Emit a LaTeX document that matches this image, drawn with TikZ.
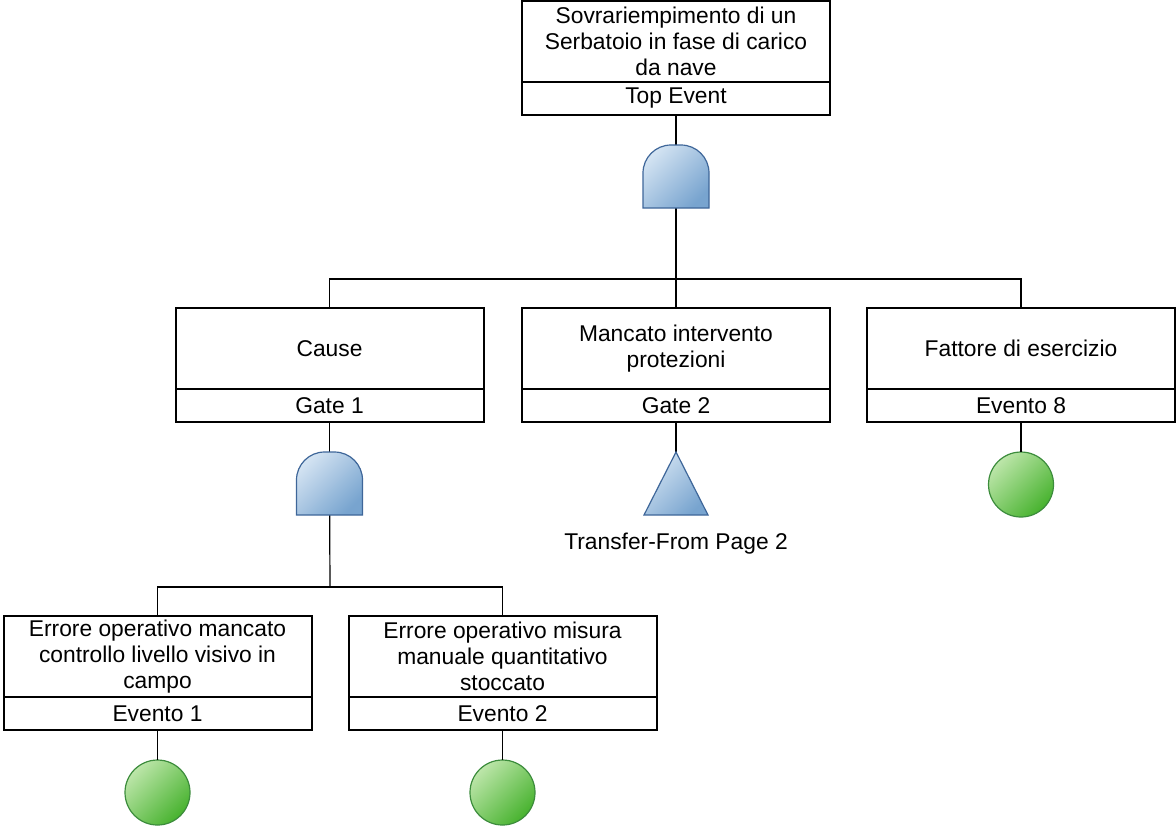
\documentclass[tikz,border=0pt]{standalone}
\usepackage{fontspec}
\setmainfont{Liberation Sans}
\usetikzlibrary{positioning}
\definecolor{gatelight}{HTML}{D3E3F2}
\definecolor{gatedark}{HTML}{78A4CF}
\definecolor{gateline}{HTML}{3E6699}
\definecolor{eventlight}{HTML}{BDE6AA}
\definecolor{eventdark}{HTML}{47B22E}
\definecolor{eventline}{HTML}{3C8C3C}
\pgfmathsetmacro{\gatecorner}{14}
% gate symbols drawn over an empty node
\newcommand{\andgate}[1]{%
  \draw[gatesym] (#1.south west) -- ([yshift=-\gatecorner pt]#1.north west)
    arc[start angle=180, end angle=90, radius=\gatecorner pt]
    -- ([xshift=-\gatecorner pt]#1.north east)
    arc[start angle=90, end angle=0, radius=\gatecorner pt]
    -- (#1.south east) -- cycle;}
\newcommand{\transfergate}[1]{%
  \draw[gatesym] (#1.south west) -- (#1.north) -- (#1.south east) -- cycle;}

\begin{document}
\begin{tikzpicture}[x=0.5pt, y=0.5pt,
    font=\fontsize{11.4}{13}\selectfont,
    body/.style={draw, line width=1pt, minimum width=154pt, minimum height=40.5pt,
      align=center, inner sep=0pt, outer sep=0pt},
    ident/.style={draw, line width=1pt, minimum width=154pt, minimum height=16.5pt,
      inner sep=0pt, outer sep=0pt},
    gatebox/.style={minimum width=33pt, minimum height=31.5pt, inner sep=0pt, outer sep=0pt},
    gatesym/.style={draw=gateline, line width=0.6pt, top color=gatelight,
      bottom color=gatedark, shading angle=45},
    event/.style={circle, draw=eventline, line width=0.6pt, minimum size=32.5pt,
      inner sep=0pt, outer sep=0pt, top color=eventlight, bottom color=eventdark,
      shading angle=45},
    link/.style={line width=0.6pt}]
    \useasboundingbox (0,0) rectangle (1176,-826);
    % top event
    \node[body] (top_body) at (676,-41.5)
      {Sovrariempimento di un\\Serbatoio in fase di carico\\da nave};
    \node[ident, below=0pt of top_body] (top_id) {Top Event};
    \node[gatebox, below=15pt of top_id] (gate_top) {};
    \coordinate (split_top) at (676,-279);
    % second level
    \node[body] (cause_body) at (329.5,-348.5) {Cause};
    \node[ident, below=0pt of cause_body] (cause_id) {Gate 1};
    \node[body] (mancato_body) at (676,-348.5) {Mancato intervento\\protezioni};
    \node[ident, below=0pt of mancato_body] (mancato_id) {Gate 2};
    \node[body] (fattore_body) at (1021,-348.5) {Fattore di esercizio};
    \node[ident, below=0pt of fattore_body] (fattore_id) {Evento 8};
    % below the second level
    \node[gatebox, below=15pt of cause_id] (gate_cause) {};
    \coordinate (split_cause) at (330,-587);
    \node[gatebox, minimum width=32pt, below=15pt of mancato_id] (transfer_gate) {};
    \node[inner sep=0pt, below=9pt of transfer_gate] (transfer_label) {Transfer-From Page 2};
    \node[event, below=15pt of fattore_id] (fattore_event) {};
    % third level
    \node[body] (err1_body) at (157.5,-656.5)
      {Errore operativo mancato\\controllo livello visivo in\\campo};
    \node[ident, below=0pt of err1_body] (err1_id) {Evento 1};
    \node[body] (err2_body) at (502.5,-656.5)
      {Errore operativo misura\\manuale quantitativo\\stoccato};
    \node[ident, below=0pt of err2_body] (err2_id) {Evento 2};
    \node[event, below=15pt of err1_id] (err1_event) {};
    \node[event, below=15pt of err2_id] (err2_event) {};
    % connectors
    \draw[link] (top_id) -- (gate_top);
    \draw[link] (gate_top) -- (split_top);
    \draw[link] (split_top) -| (cause_body.north);
    \draw[link] (split_top) -- (mancato_body);
    \draw[link] (split_top) -| (fattore_body.north);
    \draw[link] (cause_id) -- (gate_cause);
    \draw[link] (gate_cause) -- (split_cause);
    \draw[link] (split_cause) -| (err1_body.north);
    \draw[link] (split_cause) -| (err2_body.north);
    \draw[link] (mancato_id) -- (transfer_gate.north);
    \draw[link] (fattore_id) -- (fattore_event);
    \draw[link] (err1_id) -- (err1_event);
    \draw[link] (err2_id) -- (err2_event);
    % gate symbols
    \andgate{gate_top}
    \andgate{gate_cause}
    \transfergate{transfer_gate}
\end{tikzpicture}
\end{document}
